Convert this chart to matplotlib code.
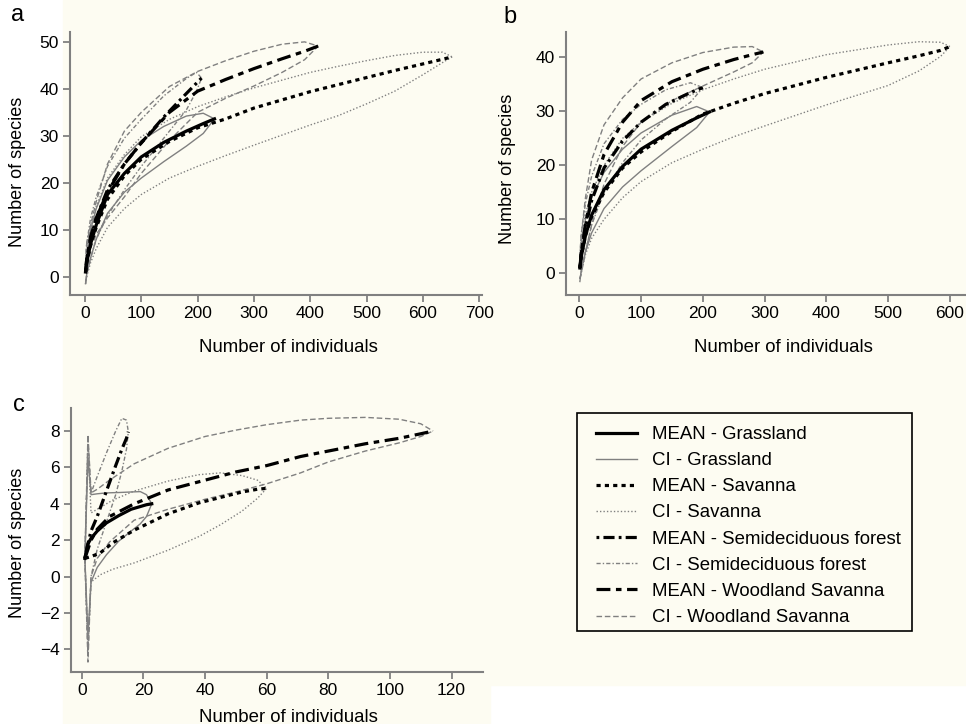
import matplotlib
matplotlib.use("Agg")
import matplotlib.pyplot as plt
from matplotlib.patches import Rectangle

plt.rcParams['font.family'] = ['Liberation Sans', 'DejaVu Sans']
plt.rcParams['lines.scale_dashes'] = False

CREAM = '#fdfcf2'
GREY = '#808080'

# ---- panel a: rarefaction, number of individuals vs number of species ----
A_GRASS_N = [1, 3, 10, 20, 40, 70, 100, 140, 180, 210, 230]
A_GRASS_MEAN = [1, 3, 7, 11, 17.5, 22, 25.5, 28.6, 31, 32.6, 33.6]
A_GRASS_UP = [2, 5, 10, 14.5, 20.5, 25.5, 29, 32, 34.2, 34.8, 33.6]
A_GRASS_LO = [-1.5, 0.5, 4, 8, 13.5, 18, 21, 24.5, 27.8, 30.5, 33.6]

A_SAV_N = [1, 3, 10, 20, 40, 70, 100, 150, 200, 250, 300, 400, 450, 500, 550, 600, 635, 652]
A_SAV_MEAN = [1, 3, 6.8, 10.5, 16.5, 21.5, 25, 28.8, 31.7, 33.6, 35.9, 39.4, 40.9, 42.4, 43.9, 45.3, 46.3, 46.8]
A_SAV_UP = [2.5, 6, 11, 15, 21, 26, 29.8, 33.5, 36.2, 38.3, 40.2, 43.5, 44.8, 46, 47.1, 47.8, 47.8, 46.8]
A_SAV_LO = [-1.5, 0, 3, 6, 10.5, 14.5, 17.5, 21, 23.5, 25.8, 28, 32.3, 34.3, 36.8, 39.5, 43, 45.6, 46.8]

A_SEMI_N = [1, 3, 10, 20, 40, 70, 100, 140, 180, 198, 207]
A_SEMI_MEAN = [1, 3.5, 8, 12.5, 18.5, 24, 28.5, 34, 39, 41.2, 42.3]
A_SEMI_UP = [3, 7, 12.5, 17, 23.5, 29.5, 33.5, 38.5, 42.2, 43.5, 42.3]
A_SEMI_LO = [-1.5, 0.5, 4, 8, 13, 18.5, 23.5, 29.5, 35.5, 39.5, 42.3]

A_WOOD_N = [1, 3, 10, 20, 40, 70, 100, 150, 200, 250, 300, 350, 390, 414]
A_WOOD_MEAN = [1, 3.5, 8.5, 12.5, 18, 24, 28.5, 35, 39.5, 42, 44.3, 46.4, 48, 49.1]
A_WOOD_UP = [3, 7, 11, 16, 24, 31, 35, 40.5, 43.7, 46, 48, 49.5, 50, 49.1]
A_WOOD_LO = [-1, 0, 6, 9, 12.5, 17, 22, 29, 35, 38, 40.6, 43.5, 46.2, 49.1]

# ---- panel b ----
B_GRASS_N = [1, 3, 10, 20, 40, 70, 100, 150, 190, 211]
B_GRASS_MEAN = [1, 3, 7, 10.8, 15.5, 19.8, 23, 26.5, 28.8, 29.9]
B_GRASS_UP = [2.5, 5.5, 10, 14, 18.7, 23, 26, 29.3, 30.9, 29.9]
B_GRASS_LO = [-1.5, 0.5, 4, 7.5, 12, 16, 19, 23.5, 27, 29.9]

B_SAV_N = [1, 3, 10, 20, 40, 70, 100, 150, 200, 250, 300, 400, 500, 550, 585, 600]
B_SAV_MEAN = [1, 3, 7, 10.5, 15, 19.5, 22.5, 26.3, 29.5, 31.5, 33.3, 36.3, 39, 40.3, 41.3, 42]
B_SAV_UP = [3, 6, 11, 15, 20, 25, 28, 31.5, 34, 36, 37.8, 40.5, 42.3, 42.9, 42.8, 42]
B_SAV_LO = [-1, 0, 3.5, 6.5, 10, 14, 17, 20.5, 23, 25.3, 27.3, 31.2, 34.8, 37.5, 40.2, 42]

B_SEMI_N = [1, 3, 10, 20, 40, 70, 100, 140, 180, 200]
B_SEMI_MEAN = [1, 3.5, 8.5, 13.5, 19.5, 24.5, 28, 31.3, 33.5, 34.4]
B_SEMI_UP = [3, 7, 13, 18, 24, 28.5, 31.3, 34, 35.3, 34.4]
B_SEMI_LO = [-1, 0, 4, 9, 15, 20.5, 24.7, 28.6, 31.7, 34.4]

B_WOOD_N = [1, 3, 10, 20, 40, 70, 100, 150, 200, 250, 280, 298]
B_WOOD_MEAN = [1, 3.5, 9, 15, 22, 28, 32, 35.5, 37.8, 39.6, 40.5, 41]
B_WOOD_UP = [3, 7, 14, 21, 27.5, 32.5, 36, 39, 40.9, 41.9, 42, 41]
B_WOOD_LO = [-1, 0, 4, 9, 16.5, 23.5, 28, 32, 34.7, 37.3, 39, 41]

# ---- panel c ----
C_GRASS_N = [1, 2, 3, 5, 8, 12, 16, 19, 21, 22.7]
C_GRASS_MEAN = [1, 1.8, 2.1, 2.5, 2.95, 3.35, 3.7, 3.85, 3.95, 4.0]
C_GRASS_UP = [1, 6.5, 4.5, 4.55, 4.6, 4.62, 4.65, 4.67, 4.5, 4.0]
C_GRASS_LO = [1, -3.2, -0.3, 0.5, 1.2, 1.95, 2.5, 2.9, 3.3, 4.0]

C_SAV_N = [1, 2, 3, 6, 10, 17, 28, 38, 45, 52, 57, 60]
C_SAV_MEAN = [1, 1.05, 1.1, 1.3, 1.85, 2.55, 3.45, 4.05, 4.35, 4.65, 4.8, 4.85]
C_SAV_UP = [1, 7.2, 3.5, 3.8, 4.2, 4.7, 5.25, 5.6, 5.7, 5.55, 5.3, 4.85]
C_SAV_LO = [1, -3.8, -0.3, 0.1, 0.4, 0.75, 1.45, 2.2, 2.85, 3.6, 4.3, 4.85]

C_SEMI_N = [1, 2, 3, 5, 8, 11, 13, 14.5, 15.1]
C_SEMI_MEAN = [1, 1.8, 2.5, 3.3, 4.7, 6.1, 7.0, 7.6, 7.96]
C_SEMI_UP = [1, 7.5, 4.6, 5.5, 6.8, 8.0, 8.7, 8.6, 7.96]
C_SEMI_LO = [1, -4.2, 0.0, 1.5, 3.0, 4.5, 5.8, 7.0, 7.96]

C_WOOD_N = [1, 2, 3, 5, 9, 17, 28, 40, 50, 60, 71, 80, 92, 103, 110, 114]
C_WOOD_MEAN = [1, 1.5, 2, 2.6, 3.3, 4.0, 4.76, 5.3, 5.75, 6.1, 6.6, 6.9, 7.3, 7.6, 7.85, 8.0]
C_WOOD_UP = [1, 7.8, 4.6, 4.8, 5.3, 6.2, 7.05, 7.7, 8.05, 8.35, 8.6, 8.7, 8.75, 8.65, 8.4, 8.0]
C_WOOD_LO = [1, -4.7, 0.0, 1.0, 1.9, 3.1, 3.7, 4.25, 4.65, 5.1, 5.7, 6.3, 6.9, 7.35, 7.7, 8.0]

HABITATS = ['Grassland', 'Savanna', 'Semideciduous forest', 'Woodland Savanna']
MEAN_STYLE = [
    '-',
    (0, (3, 3)),
    (0, (2, 3, 8, 3)),
    (0, (10, 4, 4, 4)),
]
CI_STYLE = [
    '-',
    (0, (1, 1.5)),
    (0, (3, 1.5, 1, 1.5)),
    (0, (4, 2)),
]


def fx(px):
    return px / 966


def fy(py):
    return 1 - py / 724


def draw_habitat(ax, i, n, mean, up, lo):
    ax.plot(n, up, color=GREY, lw=1.0, ls=CI_STYLE[i], zorder=2)
    ax.plot(n, lo, color=GREY, lw=1.0, ls=CI_STYLE[i], zorder=2)
    ax.plot(n, mean, color='black', lw=2.3, ls=MEAN_STYLE[i], zorder=3)


def setup(ax, xlim, ylim, xticks, yticks):
    ax.set_facecolor('none')
    ax.spines['top'].set_visible(False)
    ax.spines['right'].set_visible(False)
    for s in ['left', 'bottom']:
        ax.spines[s].set_color(GREY)
        ax.spines[s].set_linewidth(1.5)
    ax.set_xlim(*xlim)
    ax.set_ylim(*ylim)
    ax.set_xticks(xticks)
    ax.set_yticks(yticks)
    ax.tick_params(color=GREY, width=1.3, length=5, labelsize=12.5, pad=3)


fig = plt.figure(figsize=(9.66, 7.24), dpi=100)
fig.patches.append(Rectangle((fx(63), fy(685)), 1 - fx(63), 685 / 724,
                             transform=fig.transFigure, color=CREAM, zorder=-10))
fig.patches.append(Rectangle((fx(63), 0), fx(490) - fx(63), fy(685),
                             transform=fig.transFigure, color=CREAM, zorder=-10))

ax_a = fig.add_axes([fx(70), fy(295), fx(482) - fx(70), (295 - 32) / 724])
ax_b = fig.add_axes([fx(566), fy(295), 1 - fx(566), (295 - 32) / 724])
ax_c = fig.add_axes([fx(70.7), fy(671.7), fx(483) - fx(70.7), (671.7 - 408.3) / 724])

panel_a = [(A_GRASS_N, A_GRASS_MEAN, A_GRASS_UP, A_GRASS_LO),
           (A_SAV_N, A_SAV_MEAN, A_SAV_UP, A_SAV_LO),
           (A_SEMI_N, A_SEMI_MEAN, A_SEMI_UP, A_SEMI_LO),
           (A_WOOD_N, A_WOOD_MEAN, A_WOOD_UP, A_WOOD_LO)]
panel_b = [(B_GRASS_N, B_GRASS_MEAN, B_GRASS_UP, B_GRASS_LO),
           (B_SAV_N, B_SAV_MEAN, B_SAV_UP, B_SAV_LO),
           (B_SEMI_N, B_SEMI_MEAN, B_SEMI_UP, B_SEMI_LO),
           (B_WOOD_N, B_WOOD_MEAN, B_WOOD_UP, B_WOOD_LO)]
panel_c = [(C_GRASS_N, C_GRASS_MEAN, C_GRASS_UP, C_GRASS_LO),
           (C_SAV_N, C_SAV_MEAN, C_SAV_UP, C_SAV_LO),
           (C_SEMI_N, C_SEMI_MEAN, C_SEMI_UP, C_SEMI_LO),
           (C_WOOD_N, C_WOOD_MEAN, C_WOOD_UP, C_WOOD_LO)]

for ax, data in [(ax_a, panel_a), (ax_b, panel_b), (ax_c, panel_c)]:
    for i, (n, m, u, l) in enumerate(data):
        draw_habitat(ax, i, n, m, u, l)

setup(ax_a, (-26.6, 705), (-3.9, 52.1), range(0, 701, 100), range(0, 51, 10))
setup(ax_b, (-21.5, 626), (-4.0, 44.7), range(0, 601, 100), range(0, 41, 10))
setup(ax_c, (-3.6, 130.2), (-5.23, 9.25), range(0, 121, 20), range(-4, 9, 2))

# axis labels and panel letters
for px, py in [(18, 172), (508, 169), (18, 543)]:
    fig.text(fx(px), fy(py), 'Number of species', rotation=90,
             ha='center', va='center', fontsize=13)
for px, py in [(288, 347), (783, 347), (288, 717)]:
    fig.text(fx(px), fy(py), 'Number of individuals',
             ha='center', va='center', fontsize=13.4)
for lab, px, py in [('a', 18, 15), ('b', 510, 17), ('c', 19, 405)]:
    fig.text(fx(px), fy(py), lab, ha='center', va='center', fontsize=17)

# legend, frame drawn by hand so the padding matches
handles, labels = [], []
for i, h in enumerate(HABITATS):
    handles.append(plt.Line2D([], [], color='black', lw=2.3, ls=MEAN_STYLE[i]))
    labels.append('MEAN - ' + h)
    handles.append(plt.Line2D([], [], color=GREY, lw=1.0, ls=CI_STYLE[i]))
    labels.append('CI - ' + h)
fig.patches.append(Rectangle((fx(577), fy(631)), fx(912) - fx(577), (631 - 413) / 724,
                             transform=fig.transFigure, facecolor=CREAM,
                             edgecolor='black', lw=1.2, zorder=1))
leg = fig.legend(handles, labels, loc='upper left',
                 bbox_to_anchor=(fx(596), fy(426)), borderaxespad=0,
                 frameon=False, fontsize=13.4, handlelength=2.2,
                 labelspacing=0.49, borderpad=0, handletextpad=0.8)

fig.savefig('out.png', dpi=100)
